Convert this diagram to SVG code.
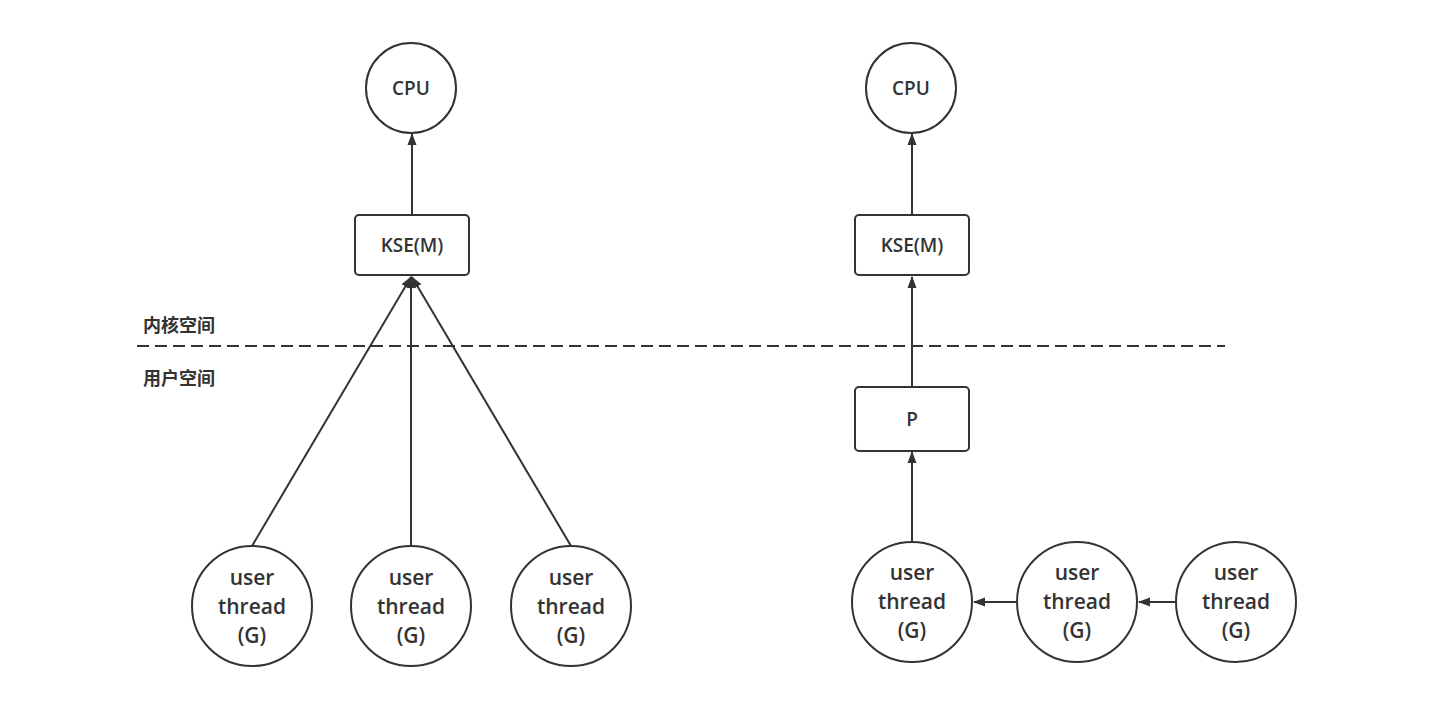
<svg xmlns="http://www.w3.org/2000/svg" width="1448" height="701" viewBox="0 0 1448 701">
<style>
.n{fill:#fff;stroke:#333;stroke-width:2}
.t{font-family:"Open Sans","DejaVu Sans",sans-serif;font-weight:600;fill:#333;text-anchor:middle;font-size:21px}
.s{font-size:19px}
.c{stroke:#333;stroke-width:2;fill:none}
.lbl{font-family:"Noto Sans CJK SC","Noto Sans",sans-serif;font-weight:bold;font-size:18px;fill:#333}
</style>
<defs>
<marker id="a" viewBox="0 0 12 10" refX="11" refY="5" markerWidth="12" markerHeight="10" markerUnits="userSpaceOnUse" orient="auto">
<path d="M0,0.5 L12,5 L0,9.5 Z" fill="#333"/>
</marker>
</defs>
<rect width="1448" height="701" fill="#fff"/>
<g id="connectors">
<line class="c" x1="137" y1="346" x2="1225" y2="346" stroke-dasharray="12 6"/>
<line class="c" x1="412" y1="215" x2="412" y2="134" marker-end="url(#a)"/>
<line class="c" x1="252" y1="546" x2="411" y2="277" marker-end="url(#a)"/>
<line class="c" x1="411" y1="546" x2="411" y2="277" marker-end="url(#a)"/>
<line class="c" x1="571" y1="546" x2="412" y2="277" marker-end="url(#a)"/>
<line class="c" x1="912" y1="215" x2="912" y2="134" marker-end="url(#a)"/>
<line class="c" x1="912" y1="387" x2="912" y2="277" marker-end="url(#a)"/>
<line class="c" x1="912" y1="541" x2="912" y2="452" marker-end="url(#a)"/>
<line class="c" x1="1016" y1="602" x2="974" y2="602" marker-end="url(#a)"/>
<line class="c" x1="1176" y1="602" x2="1139" y2="602" marker-end="url(#a)"/>
</g>
<g id="label-kernel"><text class="lbl" x="143" y="332">内核空间</text></g>
<g id="label-user"><text class="lbl" x="143" y="385">用户空间</text></g>
<g id="cpu1"><circle class="n" cx="411" cy="88" r="45"/><text class="t s" x="411" y="95">CPU</text></g>
<g id="kse1"><rect class="n" x="355" y="215" width="114" height="60" rx="4"/><text class="t s" x="412" y="252">KSE(M)</text></g>
<g id="g1"><circle class="n" cx="252" cy="606" r="60"/><text class="t" x="252" y="585">user</text><text class="t" x="252" y="614">thread</text><text class="t" x="252" y="643">(G)</text></g>
<g id="g2"><circle class="n" cx="411" cy="606" r="60"/><text class="t" x="411" y="585">user</text><text class="t" x="411" y="614">thread</text><text class="t" x="411" y="643">(G)</text></g>
<g id="g3"><circle class="n" cx="571" cy="606" r="60"/><text class="t" x="571" y="585">user</text><text class="t" x="571" y="614">thread</text><text class="t" x="571" y="643">(G)</text></g>
<g id="cpu2"><circle class="n" cx="911" cy="88" r="45"/><text class="t s" x="911" y="95">CPU</text></g>
<g id="kse2"><rect class="n" x="855" y="215" width="114" height="60" rx="4"/><text class="t s" x="912" y="252">KSE(M)</text></g>
<g id="p"><rect class="n" x="855" y="387" width="114" height="64" rx="4"/><text class="t s" x="912" y="426">P</text></g>
<g id="g4"><circle class="n" cx="912" cy="602" r="60"/><text class="t" x="912" y="580">user</text><text class="t" x="912" y="609">thread</text><text class="t" x="912" y="638">(G)</text></g>
<g id="g5"><circle class="n" cx="1077" cy="602" r="60"/><text class="t" x="1077" y="580">user</text><text class="t" x="1077" y="609">thread</text><text class="t" x="1077" y="638">(G)</text></g>
<g id="g6"><circle class="n" cx="1236" cy="602" r="60"/><text class="t" x="1236" y="580">user</text><text class="t" x="1236" y="609">thread</text><text class="t" x="1236" y="638">(G)</text></g>
</svg>
